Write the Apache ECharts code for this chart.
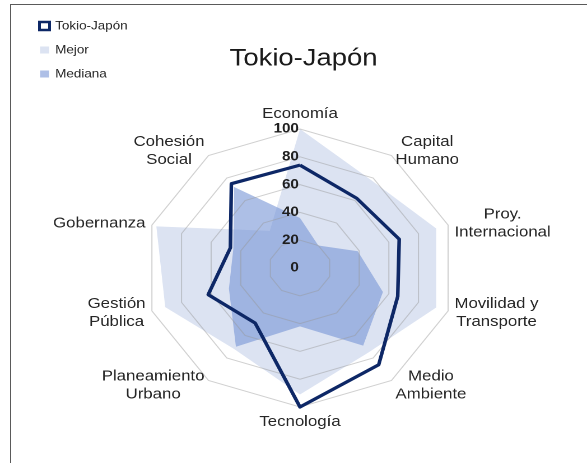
<!DOCTYPE html>
<html>
<head>
<meta charset="utf-8">
<script src="https://cdn.jsdelivr.net/npm/echarts@6/dist/echarts.min.js"></script>
<style>
  html, body { margin: 0; padding: 0; background: #fff; overflow: hidden; }
  #frame { position: absolute; left: 10px; top: 4px; width: 620px; height: 520px; border: 1px solid #5a5a5a; }
  /* the reference picture is stretched ~1.12x horizontally, so the chart is too */
  #chart { position: absolute; left: 0; top: 0; width: 524px; height: 463px; transform: scaleX(1.1202); transform-origin: 0 0; }
</style>
</head>
<body>
<div id="frame"></div>
<div id="chart"></div>
<script>
// indicators in ECharts order (counter-clockwise from the top)
const categories = ['Economía', 'Cohesión\nSocial', 'Gobernanza', 'Gestión\nPública', 'Planeamiento\nUrbano',
  'Tecnología', 'Medio\nAmbiente', 'Movilidad y\nTransporte', 'Proy.\nInternacional', 'Capital\nHumano'];
const tokio = [74, 75, 47, 62, 49, 100, 86, 66, 67, 62];
const mejor = [100, 33, 97, 91, 72, 91, 75, 92, 92, 78];
const mediana = [36, 72, 45, 48, 70, 42, 69, 56, 39, 20];
const axisMax = 100;
const splitCount = 5;

const font = '"Liberation Sans", Arial, sans-serif';
const navy = '#0d2766';

let myChart = echarts.init(document.getElementById('chart'), null, { devicePixelRatio: 2 });

let indicator = categories.map(function (c, i) {
  let item = { name: c, min: 0, max: axisMax };
  // numbers only on the top axis
  if (i == 0) {
    item.axisLabel = { show: true, margin: 1, color: '#1f1f1f', fontSize: 13.5, fontWeight: 'bold', fontFamily: font };
  }
  return item;
});

myChart.setOption({
  animation: false,
  title: {
    text: 'Tokio-Japón',
    left: 266,
    textAlign: 'center',
    top: 41,
    textStyle: { fontSize: 24.5, fontWeight: 'normal', color: '#1a1a1a', fontFamily: font }
  },
  legend: {
    orient: 'vertical',
    left: 34,
    top: 20,
    padding: 0,
    itemWidth: 9,
    itemHeight: 8,
    itemGap: 12,
    textStyle: { fontSize: 12, color: '#262626', fontFamily: font },
    data: [
      { name: 'Tokio-Japón', icon: 'rect', itemStyle: { color: '#fff', borderColor: navy, borderWidth: 2.5 } },
      { name: 'Mejor', icon: 'rect', itemStyle: { color: '#dce3f2', borderColor: '#fff', borderWidth: 1 } },
      { name: 'Mediana', icon: 'rect', itemStyle: { color: '#aebfe6', borderColor: '#fff', borderWidth: 1 } }
    ]
  },
  radar: {
    z: 3,
    center: [267.8, 268],
    radius: 139,
    shape: 'polygon',
    splitNumber: splitCount,
    nameGap: 6,
    axisName: {
      color: '#262626',
      fontSize: 15,
      fontFamily: font,
      formatter: function (name) {
        return name.split('\n').map(function (s) { return '{c|' + s + '}'; }).join('\n');
      },
      rich: {
        c: { align: 'center', color: '#262626', fontSize: 15, fontFamily: font, lineHeight: 18 }
      }
    },
    axisLine: { show: false },
    axisTick: { show: false },
    axisLabel: { show: false },
    splitArea: { show: false },
    splitLine: { lineStyle: { color: 'rgba(150,150,150,0.45)', width: 1 } },
    indicator: indicator
  },
  series: [
    {
      // the two filled areas sit under the grid
      type: 'radar',
      z: 1,
      symbol: 'none',
      data: [
        {
          name: 'Mejor',
          value: mejor,
          lineStyle: { width: 0, opacity: 0 },
          areaStyle: { color: '#dce3f2', opacity: 1 }
        },
        {
          name: 'Mediana',
          value: mediana,
          lineStyle: { width: 0, opacity: 0 },
          areaStyle: { color: 'rgba(118,148,214,0.6)', opacity: 1 }
        }
      ]
    },
    {
      type: 'radar',
      z: 5,
      symbol: 'none',
      data: [
        {
          name: 'Tokio-Japón',
          value: tokio,
          lineStyle: { color: navy, width: 3.2 },
          itemStyle: { color: navy }
        }
      ]
    }
  ]
});
</script>
</body>
</html>
